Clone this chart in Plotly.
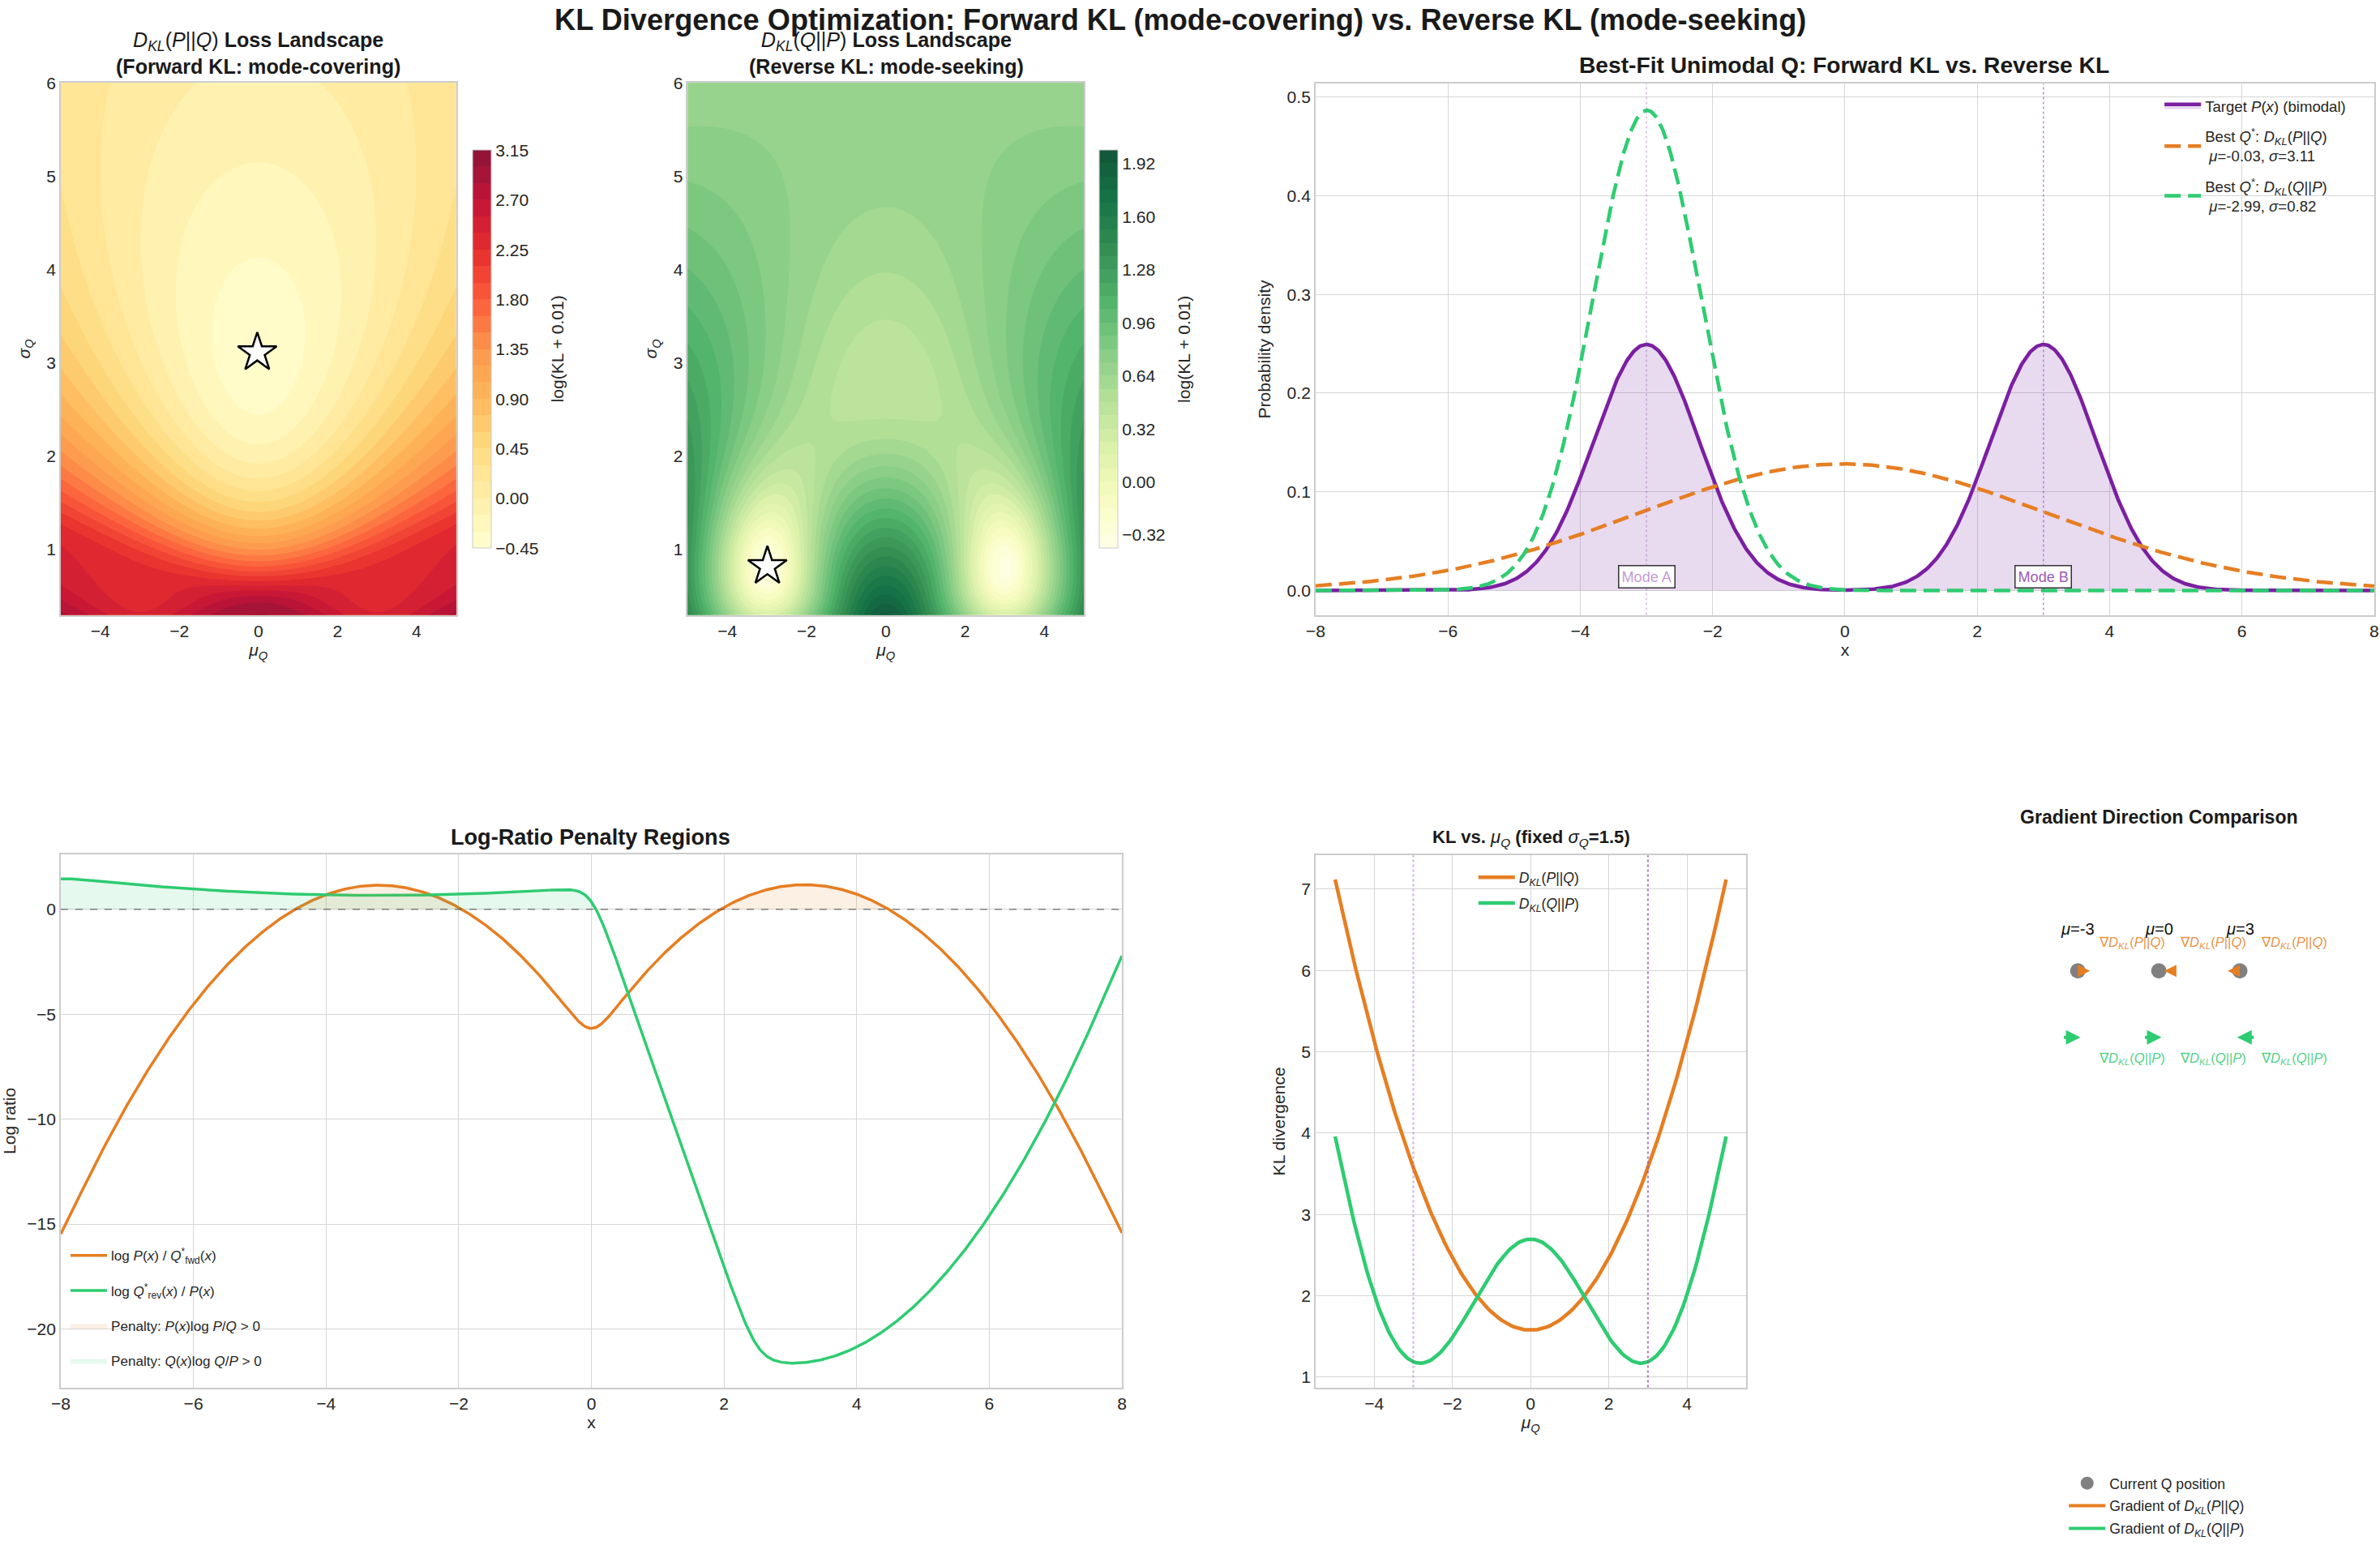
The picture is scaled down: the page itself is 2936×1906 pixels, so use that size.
import numpy as np
import plotly.graph_objects as go

# Figure size; the page adds an 8px body margin around it, so positions measured on the
# 2936x1906 reference are mapped into figure coordinates with a small scale + shift.
W, H = 2936, 1906
OFF = 8
SX = (W + 2 * OFF) / W
SY = (H + 2 * OFF) / H

# ---------------- data (parameters) ----------------
mode_means = [-3.0, 3.0]
mode_sigma = 0.8
mode_weights = [0.5, 0.5]
mode_labels = ["Mode A", "Mode B"]
fwd_best_mu, fwd_best_sigma = -0.03, 3.11
rev_best_mu, rev_best_sigma = -2.99, 0.82
mu_grid_range = [-5.0, 5.0]
sigma_grid_range = [0.3, 6.0]
x_range = [-8.0, 8.0]
fixed_sigma = 1.5
grad_mus = [-3, 0, 3]
grad_dir_fwd = [1, 0, -1]
grad_dir_rev = [1, 1, -1]
fwd_levels = dict(start=-0.45, end=3.15, size=0.15)
rev_levels = dict(start=-0.40, end=2.00, size=0.08)
fwd_cbar_ticks = [-0.45, 0.0, 0.45, 0.90, 1.35, 1.80, 2.25, 2.70, 3.15]
rev_cbar_ticks = [-0.32, 0.0, 0.32, 0.64, 0.96, 1.28, 1.60, 1.92]
heat_x_ticks = [-4, -2, 0, 2, 4]
heat_y_ticks = [1, 2, 3, 4, 5, 6]
dens_x_ticks = [-8, -6, -4, -2, 0, 2, 4, 6, 8]
dens_y_ticks = [0.0, 0.1, 0.2, 0.3, 0.4, 0.5]
lr_y_ticks = [-20, -15, -10, -5, 0]
kl_x_ticks = [-4, -2, 0, 2, 4]
kl_y_ticks = [1, 2, 3, 4, 5, 6, 7]
EPS = 1e-10

PURPLE = "#7B1FA2"
PURPLE_FILL = "rgba(142,68,173,0.2)"
ORANGE = "#E67E22"
GREEN = "#2ECC71"
FONT = "Liberation Sans, Arial, sans-serif"
TXT = "#262626"

# ---------------- computations ----------------
xs = np.linspace(x_range[0], x_range[1], 1000)
dx = xs[1] - xs[0]


def gauss(x, m, s):
    return np.exp(-0.5 * ((x - m) / s) ** 2) / (s * np.sqrt(2 * np.pi))


P = sum(w * gauss(xs, m, mode_sigma) for m, w in zip(mode_means, mode_weights))


def kl(p, q):
    return np.sum(p * np.log((p + EPS) / (q + EPS)), axis=-1) * dx


mus = np.linspace(mu_grid_range[0], mu_grid_range[1], 121)
sigmas = np.linspace(sigma_grid_range[0], sigma_grid_range[1], 121)
Zf = np.zeros((len(sigmas), len(mus)))
Zr = np.zeros((len(sigmas), len(mus)))
for j, s in enumerate(sigmas):
    Q = gauss(xs[None, :], mus[:, None], s)
    Zf[j] = np.log(kl(P[None, :], Q) + 0.01)
    Zr[j] = np.log(kl(Q, P[None, :]) + 0.01)

Qf = gauss(xs, fwd_best_mu, fwd_best_sigma)
Qr = gauss(xs, rev_best_mu, rev_best_sigma)
log_fwd = np.log((P + EPS) / (Qf + EPS))
log_rev = np.log((Qr + EPS) / (P + EPS))

mu_line = np.linspace(mu_grid_range[0], mu_grid_range[1], 200)
Qline = gauss(xs[None, :], mu_line[:, None], fixed_sigma)
kl_f_line = kl(P[None, :], Qline)
kl_r_line = kl(Qline, P[None, :])


def pad_range(vals, frac=0.05):
    lo, hi = float(np.min(vals)), float(np.max(vals))
    d = (hi - lo) * frac
    return [lo - d, hi + d]


def blend(scale, alpha=0.92):
    out = []
    n = len(scale)
    for i, c in enumerate(scale):
        r, g, b = [int(v) for v in c[c.index("(") + 1:c.index(")")].split(",")]
        r = round(alpha * r + (1 - alpha) * 255)
        g = round(alpha * g + (1 - alpha) * 255)
        b = round(alpha * b + (1 - alpha) * 255)
        out.append([i / (n - 1), f"rgb({r},{g},{b})"])
    return out


YLORRD = ["rgb(255,255,204)", "rgb(255,237,160)", "rgb(254,217,118)", "rgb(254,178,76)",
          "rgb(253,141,60)", "rgb(252,78,42)", "rgb(227,26,28)", "rgb(189,0,38)", "rgb(128,0,38)"]
YLGN = ["rgb(255,255,229)", "rgb(247,252,185)", "rgb(217,240,163)", "rgb(173,221,142)",
        "rgb(120,198,121)", "rgb(65,171,93)", "rgb(35,132,67)", "rgb(0,104,55)", "rgb(0,69,41)"]


def clamp01(v):
    return min(1.0, max(0.0, v))


def px(x):
    return (x * SX - OFF - 2) / W


def py(y):
    return 1 - (y * SY - OFF) / H


def dom_x(a, b):
    return [clamp01(px(a)), clamp01(px(b))]


def dom_y(a, b):
    return [clamp01(py(b)), clamp01(py(a))]


def fs(v):
    return round(v * SX, 1)


def fmt(v, nd=2):
    s = f"{v:.{nd}f}"
    return s.replace("-", "\u2212")


# ---------------- figure ----------------
fig = go.Figure()

DKL = "<i>D</i><sub><i>KL</i></sub>"
PQ = "(<i>P</i>||<i>Q</i>)"
QP = "(<i>Q</i>||<i>P</i>)"


def cbar(x_left, ticks):
    return dict(x=px(x_left), xanchor="left", xpad=0, y=py(426), yanchor="middle",
                len=(py(181) - py(671)), lenmode="fraction", thickness=23, thicknessmode="pixels", ypad=0,
                outlinecolor="#cccccc", outlinewidth=1,
                tickvals=ticks, ticktext=[fmt(v) for v in ticks],
                tickfont=dict(size=fs(21), color=TXT, family=FONT))


# 1. Forward KL landscape
fig.add_trace(go.Contour(
    x=mus, y=sigmas, z=Zf, xaxis="x", yaxis="y",
    colorscale=blend(YLORRD), autocontour=False,
    contours=dict(start=fwd_levels["start"], end=fwd_levels["end"], size=fwd_levels["size"],
                  coloring="fill", showlines=False),
    zmin=fwd_levels["start"], zmax=fwd_levels["end"], line=dict(width=0),
    colorbar=cbar(581, fwd_cbar_ticks), showlegend=False, hoverinfo="skip"))
fig.add_trace(go.Scatter(x=[fwd_best_mu], y=[fwd_best_sigma], xaxis="x", yaxis="y", mode="markers",
                         marker=dict(symbol="star", size=36, color="white", line=dict(color="black", width=2.5)),
                         showlegend=False, hoverinfo="skip"))

# 2. Reverse KL landscape
fig.add_trace(go.Contour(
    x=mus, y=sigmas, z=Zr, xaxis="x2", yaxis="y2",
    colorscale=blend(YLGN), autocontour=False,
    contours=dict(start=rev_levels["start"], end=rev_levels["end"], size=rev_levels["size"],
                  coloring="fill", showlines=False),
    zmin=rev_levels["start"], zmax=rev_levels["end"], line=dict(width=0),
    colorbar=cbar(1355, rev_cbar_ticks), showlegend=False, hoverinfo="skip"))
fig.add_trace(go.Scatter(x=[rev_best_mu], y=[rev_best_sigma], xaxis="x2", yaxis="y2", mode="markers",
                         marker=dict(symbol="star", size=36, color="white", line=dict(color="black", width=2.5)),
                         showlegend=False, hoverinfo="skip"))

# 3. Densities
fig.add_trace(go.Scatter(x=xs, y=P, xaxis="x3", yaxis="y3", mode="lines", fill="tozeroy",
                         fillcolor=PURPLE_FILL, line=dict(color=PURPLE, width=4.5),
                         name="Target <i>P</i>(<i>x</i>) (bimodal)", legend="legend", legendgroup="a",
                         hoverinfo="skip"))
fig.add_trace(go.Scatter(x=xs, y=Qf, xaxis="x3", yaxis="y3", mode="lines",
                         line=dict(color=ORANGE, width=4.5, dash="20px,9px"),
                         name=f"Best <i>Q</i><sup>*</sup>: {DKL}{PQ}<br> <i>μ</i>={fwd_best_mu:.2f}, <i>σ</i>={fwd_best_sigma:.2f}",
                         legend="legend", legendgroup="b", hoverinfo="skip"))
fig.add_trace(go.Scatter(x=xs, y=Qr, xaxis="x3", yaxis="y3", mode="lines",
                         line=dict(color=GREEN, width=4.5, dash="20px,9px"),
                         name=f"Best <i>Q</i><sup>*</sup>: {DKL}{QP}<br> <i>μ</i>={rev_best_mu:.2f}, <i>σ</i>={rev_best_sigma:.2f}",
                         legend="legend", legendgroup="c", hoverinfo="skip"))

# 4. Log ratios
fig.add_trace(go.Scatter(x=xs, y=log_fwd, xaxis="x4", yaxis="y4", mode="lines",
                         line=dict(color=ORANGE, width=3.5),
                         name="log <i>P</i>(<i>x</i>) / <i>Q</i><sup>*</sup><sub>fwd</sub>(<i>x</i>)",
                         legend="legend2", legendgroup="a", hoverinfo="skip"))
fig.add_trace(go.Scatter(x=xs, y=log_rev, xaxis="x4", yaxis="y4", mode="lines",
                         line=dict(color=GREEN, width=3.5),
                         name="log <i>Q</i><sup>*</sup><sub>rev</sub>(<i>x</i>) / <i>P</i>(<i>x</i>)",
                         legend="legend2", legendgroup="b", hoverinfo="skip"))
fig.add_trace(go.Scatter(x=xs, y=np.maximum(log_fwd, 0), xaxis="x4", yaxis="y4", mode="lines",
                         fill="tozeroy", fillcolor="rgba(230,126,34,0.12)", line=dict(width=0),
                         name="Penalty: <i>P</i>(<i>x</i>)log <i>P</i>/<i>Q</i> > 0",
                         legend="legend2", legendgroup="c", hoverinfo="skip"))
fig.add_trace(go.Scatter(x=xs, y=np.maximum(log_rev, 0), xaxis="x4", yaxis="y4", mode="lines",
                         fill="tozeroy", fillcolor="rgba(46,204,113,0.12)", line=dict(width=0),
                         name="Penalty: <i>Q</i>(<i>x</i>)log <i>Q</i>/<i>P</i> > 0",
                         legend="legend2", legendgroup="d", hoverinfo="skip"))

# 5. KL vs mu
fig.add_trace(go.Scatter(x=mu_line, y=kl_f_line, xaxis="x5", yaxis="y5", mode="lines",
                         line=dict(color=ORANGE, width=4.5), name=f"{DKL}{PQ}",
                         legend="legend3", legendgroup="a", hoverinfo="skip"))
fig.add_trace(go.Scatter(x=mu_line, y=kl_r_line, xaxis="x5", yaxis="y5", mode="lines",
                         line=dict(color=GREEN, width=4.5), name=f"{DKL}{QP}",
                         legend="legend3", legendgroup="b", hoverinfo="skip"))

# 6. Gradient panel
Y_DOT, Y_GREEN, Y_MU, Y_OTXT, Y_GTXT = 0.783, 0.658, 0.861, 0.835, 0.618
fig.add_trace(go.Scatter(x=grad_mus, y=[Y_DOT] * len(grad_mus), xaxis="x6", yaxis="y6", mode="markers",
                         marker=dict(color="gray", size=19), name="Current Q position",
                         legend="legend4", legendgroup="a", hoverinfo="skip"))
fig.add_trace(go.Scatter(x=[None], y=[None], xaxis="x6", yaxis="y6", mode="lines",
                         line=dict(color=ORANGE, width=4), name=f"Gradient of {DKL}{PQ}",
                         legend="legend4", legendgroup="b"))
fig.add_trace(go.Scatter(x=[None], y=[None], xaxis="x6", yaxis="y6", mode="lines",
                         line=dict(color=GREEN, width=4), name=f"Gradient of {DKL}{QP}",
                         legend="legend4", legendgroup="c"))

# ---------------- layout ----------------
axis_base = dict(showgrid=True, gridcolor="#d6d6d6", gridwidth=1.3, showline=True, linecolor="#cccccc",
                 linewidth=1.5, mirror=True, zeroline=False, ticks="",
                 tickfont=dict(size=fs(21), color=TXT, family=FONT),
                 title_font=dict(size=fs(21), color=TXT, family=FONT))

MUQ = "<i>μ</i><sub><i>Q</i></sub>"
SIGQ = "<i>σ</i><sub><i>Q</i></sub>"


def legend_box(x, y, size, gap):
    return dict(x=px(x), y=py(y), xanchor="left", yanchor="top", bgcolor="rgba(0,0,0,0)",
                font=dict(size=fs(size), color=TXT, family=FONT), tracegroupgap=gap, itemwidth=45)


layout = dict(
    width=W, height=H, margin=dict(l=0, r=0, t=0, b=0),
    paper_bgcolor="white", plot_bgcolor="white",
    font=dict(family=FONT, color=TXT),
    xaxis=dict(axis_base, domain=dom_x(73, 561), range=mu_grid_range, tickvals=heat_x_ticks,
               title=dict(text=MUQ, standoff=6), anchor="y"),
    yaxis=dict(axis_base, domain=dom_y(98, 753), range=sigma_grid_range, tickvals=heat_y_ticks,
               title=dict(text=SIGQ, standoff=14), anchor="x"),
    xaxis2=dict(axis_base, domain=dom_x(847, 1336), range=mu_grid_range, tickvals=heat_x_ticks,
                title=dict(text=MUQ, standoff=6), anchor="y2"),
    yaxis2=dict(axis_base, domain=dom_y(98, 753), range=sigma_grid_range, tickvals=heat_y_ticks,
                title=dict(text=SIGQ, standoff=14), anchor="x2"),
    xaxis3=dict(axis_base, domain=dom_x(1622, 2929), range=x_range, tickvals=dens_x_ticks,
                title=dict(text="x", standoff=6), anchor="y3"),
    yaxis3=dict(axis_base, domain=dom_y(99, 753), range=[-0.0247, 0.5135], tickvals=dens_y_ticks,
                tickformat=".1f", title=dict(text="Probability density", standoff=14), anchor="x3"),
    xaxis4=dict(axis_base, domain=dom_x(73, 1383), range=x_range, tickvals=dens_x_ticks,
                title=dict(text="x", standoff=6), anchor="y4"),
    yaxis4=dict(axis_base, domain=dom_y(1048, 1704), range=pad_range(np.concatenate([log_fwd, log_rev])),
                tickvals=lr_y_ticks, title=dict(text="Log ratio", standoff=14), anchor="x4"),
    xaxis5=dict(axis_base, domain=dom_x(1622, 2153), range=[mu_grid_range[0] - 0.5, mu_grid_range[1] + 0.5],
                tickvals=kl_x_ticks, title=dict(text=MUQ, standoff=6), anchor="y5"),
    yaxis5=dict(axis_base, domain=dom_y(1049, 1704), range=pad_range(np.concatenate([kl_f_line, kl_r_line])),
                tickvals=kl_y_ticks, title=dict(text="KL divergence", standoff=14), anchor="x5"),
    xaxis6=dict(domain=dom_x(2460, 2900), range=[-6.09, 7.11], visible=False, anchor="y6"),
    yaxis6=dict(domain=dom_y(1049, 1704), range=[0, 1], visible=False, anchor="x6"),
    legend=legend_box(2665, 108, 18.5, 10),
    legend2=legend_box(80, 1524, 17, 18),
    legend3=legend_box(1818, 1058, 17.5, 6),
    legend4=legend_box(2547, 1804, 17.5, 2),
)
fig.update_layout(**layout)

shapes = []
shapes.append(dict(type="line", xref="x4 domain", yref="y4", x0=0, x1=1, y0=0, y1=0,
                   line=dict(color="rgba(80,80,80,0.7)", width=1.6, dash="dash")))
mode_line_colors = ["rgba(155,89,182,0.45)", "rgba(155,89,182,0.75)"]
for m, c in zip(mode_means, mode_line_colors):
    shapes.append(dict(type="line", xref="x3", yref="y3 domain", x0=m, x1=m, y0=0, y1=1,
                       line=dict(color=c, width=1.4, dash="dot")))
    shapes.append(dict(type="line", xref="x5", yref="y5 domain", x0=m, x1=m, y0=0, y1=1,
                       line=dict(color=c, width=2.2, dash="dot")))
fig.update_layout(shapes=shapes)

ann = []


def title(text, x, y, size, bold=True):
    ann.append(dict(text=(f"<b>{text}</b>" if bold else text), x=px(x), y=py(y), xref="paper", yref="paper",
                    xanchor="center", yanchor="middle", showarrow=False,
                    font=dict(size=fs(size), color="#1a1a1a", family=FONT)))


title("KL Divergence Optimization: Forward KL (mode-covering) vs. Reverse KL (mode-seeking)", 1455, 20, 36)
ann.append(dict(text=f"{DKL}{PQ} <b>Loss Landscape</b><br><b>(Forward KL: mode-covering)</b>",
                x=px(317), y=py(61), xref="paper", yref="paper", xanchor="center", yanchor="middle",
                showarrow=False, font=dict(size=fs(25), color="#1a1a1a", family=FONT)))
ann.append(dict(text=f"{DKL}{QP} <b>Loss Landscape</b><br><b>(Reverse KL: mode-seeking)</b>",
                x=px(1092), y=py(61), xref="paper", yref="paper", xanchor="center", yanchor="middle",
                showarrow=False, font=dict(size=fs(25), color="#1a1a1a", family=FONT)))
title("Best-Fit Unimodal Q: Forward KL vs. Reverse KL", 2275, 76, 28)
title("Log-Ratio Penalty Regions", 727, 1026, 27)
ann.append(dict(text=f"<b>KL vs. </b>{MUQ}<b> (fixed </b>{SIGQ}<b>=1.5)</b>", x=px(1888), y=py(1028),
                xref="paper", yref="paper", xanchor="center", yanchor="middle", showarrow=False,
                font=dict(size=fs(22), color="#1a1a1a", family=FONT)))
title("Gradient Direction Comparison", 2663, 1002, 23)

# colorbar labels
for xl in (686, 1460):
    ann.append(dict(text="log(KL + 0.01)", x=px(xl), y=py(426), xref="paper", yref="paper",
                    xanchor="center", yanchor="middle", textangle=-90, showarrow=False,
                    font=dict(size=fs(21), color=TXT, family=FONT)))

# Mode labels
mode_text_colors = ["rgba(142,68,173,0.55)", "rgba(142,68,173,0.9)"]
for m, lab, c in zip(mode_means, mode_labels, mode_text_colors):
    ann.append(dict(text=lab, x=m, y=0.014, xref="x3", yref="y3", showarrow=False, xanchor="center",
                    yanchor="middle", bgcolor="white", bordercolor="#333333", borderwidth=1.5, borderpad=3,
                    font=dict(size=fs(18), color=c, family=FONT)))

# Gradient panel texts and arrows
for mu, df, dr in zip(grad_mus, grad_dir_fwd, grad_dir_rev):
    ann.append(dict(text=f"<i>μ</i>={mu}", x=mu, y=Y_MU, xref="x6", yref="y6", showarrow=False,
                    xanchor="center", yanchor="middle", font=dict(size=fs(20), color="#111111", family=FONT)))
    ann.append(dict(text=f"∇{DKL}{PQ}", x=mu + 2.0, y=Y_OTXT, xref="x6", yref="y6", showarrow=False,
                    xanchor="center", yanchor="middle",
                    font=dict(size=fs(16.5), color="rgba(230,126,34,0.85)", family=FONT)))
    ann.append(dict(text=f"∇{DKL}{QP}", x=mu + 2.0, y=Y_GTXT, xref="x6", yref="y6", showarrow=False,
                    xanchor="center", yanchor="middle",
                    font=dict(size=fs(16.5), color="rgba(46,204,113,0.85)", family=FONT)))
    if df != 0:
        ann.append(dict(text="", x=mu + df * 0.45, y=Y_DOT, xref="x6", yref="y6", ax=-df * 15, ay=0,
                        showarrow=True, arrowhead=2, arrowsize=1, arrowwidth=3, arrowcolor=ORANGE, standoff=0))
    else:
        ann.append(dict(text="", x=mu + 0.2, y=Y_DOT, xref="x6", yref="y6", ax=12, ay=0,
                        showarrow=True, arrowhead=2, arrowsize=1, arrowwidth=3, arrowcolor=ORANGE, standoff=0))
    ann.append(dict(text="", x=mu + dr * 0.1, y=Y_GREEN, xref="x6", yref="y6", ax=-dr * 22, ay=0,
                    showarrow=True, arrowhead=2, arrowsize=0.9, arrowwidth=4, arrowcolor=GREEN, standoff=0))

fig.update_layout(annotations=ann)

fig.write_html("out.html")
